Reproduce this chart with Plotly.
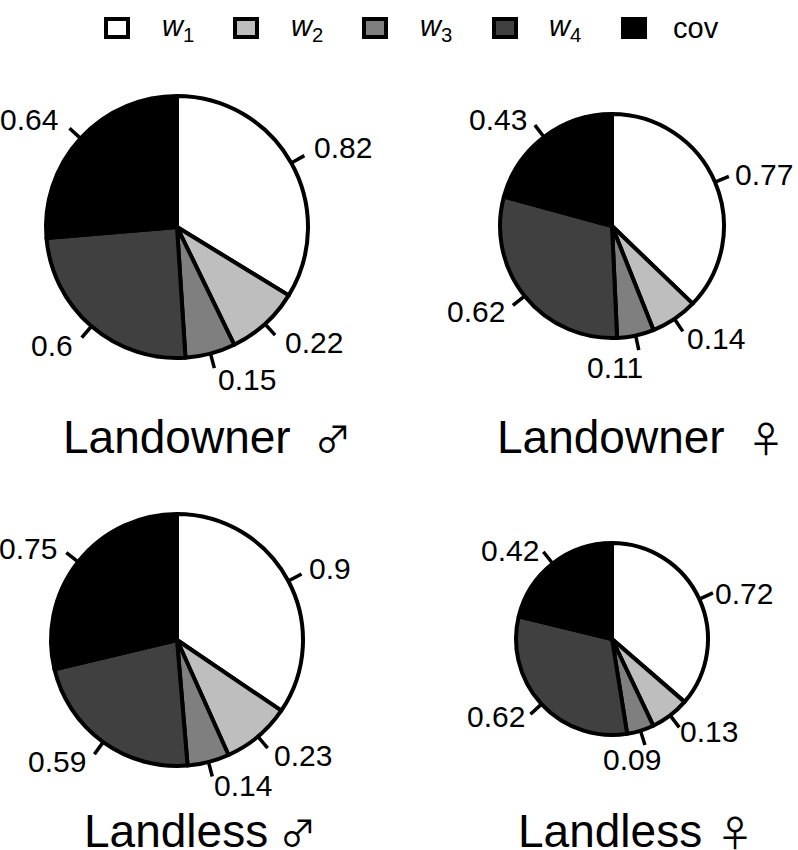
import math
import plotly.graph_objects as go

W, H = 798, 850

slices = ['w1', 'w2', 'w3', 'w4', 'cov']
colors = ['#ffffff', '#bebebe', '#7f7f7f', '#404040', '#000000']

landowner_m = [0.82, 0.22, 0.15, 0.6, 0.64]
landowner_f = [0.77, 0.14, 0.11, 0.62, 0.43]
landless_m = [0.9, 0.23, 0.14, 0.59, 0.75]
landless_f = [0.72, 0.13, 0.09, 0.62, 0.42]

labels_lo_m = ['0.82', '0.22', '0.15', '0.6', '0.64']
labels_lo_f = ['0.77', '0.14', '0.11', '0.62', '0.43']
labels_ll_m = ['0.9', '0.23', '0.14', '0.59', '0.75']
labels_ll_f = ['0.72', '0.13', '0.09', '0.62', '0.42']

# label centres in page pixels
pos_lo_m = [(343, 148), (314, 342), (247, 380), (52, 346), (29, 120)]
pos_lo_f = [(764, 174), (716, 338), (615, 367), (476, 311), (498, 119)]
pos_ll_m = [(330, 568), (303, 755), (243, 785), (57, 761), (28, 548)]
pos_ll_f = [(744, 593), (709, 731), (632, 759), (496, 716), (510, 550)]

panels = [
    (landowner_m, labels_lo_m, pos_lo_m, 177, 227, 131),
    (landowner_f, labels_lo_f, pos_lo_f, 612, 226, 112),
    (landless_m, labels_ll_m, pos_ll_m, 177, 640, 126),
    (landless_f, labels_ll_f, pos_ll_f, 612, 639, 96),
]

FONT = 'Liberation Sans'


def px(x):
    return x / W


def py(y):
    return 1 - y / H


fig = go.Figure()
shapes = []
notes = []

for vals, labs, pos, cx, cy, r in panels:
    fig.add_trace(go.Pie(
        labels=slices, values=vals, sort=False, direction='clockwise', rotation=0,
        domain=dict(x=[px(cx - r), px(cx + r)], y=[py(cy + r), py(cy - r)]),
        marker=dict(colors=colors, line=dict(color='black', width=4)),
        textinfo='none', showlegend=False,
    ))
    # tick at the middle of each slice, label next to it
    total = sum(vals)
    run = 0
    for v, lab, (lx, ly) in zip(vals, labs, pos):
        a = 2 * math.pi * (run + v / 2) / total
        run += v
        sx, sy = math.sin(a), -math.cos(a)
        shapes.append(dict(
            type='line', xref='paper', yref='paper',
            x0=px(cx + r * sx), y0=py(cy + r * sy),
            x1=px(cx + (r + 15) * sx), y1=py(cy + (r + 15) * sy),
            line=dict(color='black', width=3.5),
        ))
        notes.append(dict(x=px(lx), y=py(ly), text=lab, font=dict(size=30)))

# legend drawn by hand to get the wide spacing
legend_names = ['<i>w</i><sub>1</sub>', '<i>w</i><sub>2</sub>', '<i>w</i><sub>3</sub>',
                '<i>w</i><sub>4</sub>', 'cov']
legend_box_x = [104, 233, 362, 492, 621]
legend_text_x = [178, 307, 436, 565, 696]
for name, col, bx, tx in zip(legend_names, colors, legend_box_x, legend_text_x):
    shapes.append(dict(
        type='rect', xref='paper', yref='paper',
        x0=px(bx + 2), x1=px(bx + 24), y0=py(37), y1=py(19),
        fillcolor=col, line=dict(color='black', width=4),
    ))
    notes.append(dict(x=px(tx), y=py(28), text=name, font=dict(size=29)))

titles = [('Landowner', 177, 437), ('Landowner', 611, 437), ('Landless', 176, 831), ('Landless', 610, 831)]
for txt, x, y in titles:
    notes.append(dict(x=px(x), y=py(y), text=txt, font=dict(size=46)))

symbols = [('♂', 333, 437), ('♀', 766, 437), ('♂', 298, 831), ('♀', 735, 831)]
for txt, x, y in symbols:
    notes.append(dict(x=px(x), y=py(y), text=txt, font=dict(size=36, family='Noto Sans CJK JP')))

for n in notes:
    n['font'].setdefault('family', FONT)
    n['font']['color'] = 'black'
    n.update(xref='paper', yref='paper', showarrow=False, xanchor='center', yanchor='middle')

fig.update_layout(
    width=W, height=H,
    margin=dict(l=0, r=0, t=0, b=0),
    paper_bgcolor='white',
    shapes=shapes,
    annotations=notes,
)

# the default page has a body margin that would push the figure off the window
fig.write_html("out.html", config=dict(displayModeBar=False),
               post_script="document.body.style.margin = '0';")
